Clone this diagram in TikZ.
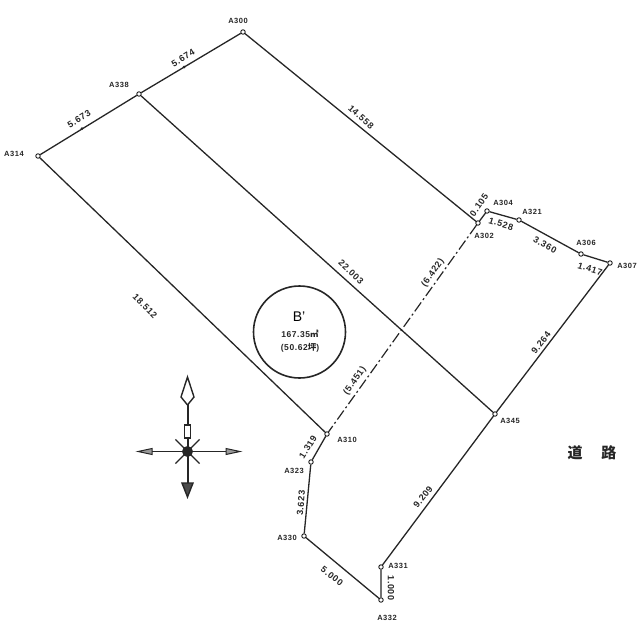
\documentclass[tikz,border=0pt]{standalone}
\usepackage{fontspec}
\setmainfont{Liberation Sans}
\newfontfamily\cadfont[LetterSpace=7]{Liberation Sans}
\newfontfamily\cjkfont{Noto Sans CJK JP}
\begin{document}
\begin{tikzpicture}[x=1pt, y=-1pt,
  stake/.style = {circle, draw, fill=white, line width=0.8pt, inner sep=0pt, minimum size=4.5pt},
  tick/.style = {circle, fill=black!85, inner sep=0pt, minimum size=3pt},
  boundary/.style = {line width=1.3pt, black!85},
  compass/.style = {line width=1.4pt, black!85},
  ptlabel/.style = {font=\cadfont\bfseries\fontsize{7.5}{8}\selectfont, inner sep=0pt, black!85},
  dimlabel/.style = {font=\cadfont\bfseries\fontsize{9}{9}\selectfont, inner sep=0pt, black!85}]
  \useasboundingbox (0,0) rectangle (640,640);
  % stakes
  \node[stake] (A300) at (243,32) {};
  \node[stake] (A338) at (139,94) {};
  \node[stake] (A314) at (38,156) {};
  \node[stake] (A302) at (478,223) {};
  \node[stake] (A304) at (487,211) {};
  \node[stake] (A321) at (519,220) {};
  \node[stake] (A306) at (581,254) {};
  \node[stake] (A307) at (610,263) {};
  \node[stake] (A345) at (495,414) {};
  \node[stake] (A331) at (381,567) {};
  \node[stake] (A332) at (381,600) {};
  \node[stake] (A330) at (304,536) {};
  \node[stake] (A323) at (311,462) {};
  \node[stake] (A310) at (327,434) {};
  % boundary
  \draw[boundary] (A314) -- (A338) -- (A300) -- (A302) -- (A304) -- (A321)
    -- (A306) -- (A307) -- (A345) -- (A331) -- (A332) -- (A330) -- (A323)
    -- (A310) -- (A314);
  \draw[boundary] (A338) -- (A345);
  \draw[line width=1.2pt, black!85, dash pattern=on 11pt off 3pt on 2pt off 3pt] (A302) -- (A310);
  \node[tick] (tickleft) at (82,128.5) {};
  \node[tick] (tickright) at (184,67) {};
  % stake names
  \node[ptlabel] at (238,21) {A300};
  \node[ptlabel] at (119,85) {A338};
  \node[ptlabel] at (14,154) {A314};
  \node[ptlabel] at (503,203) {A304};
  \node[ptlabel] at (532,212) {A321};
  \node[ptlabel] at (484,236) {A302};
  \node[ptlabel] at (586,243) {A306};
  \node[ptlabel] at (627,266) {A307};
  \node[ptlabel] at (510,421) {A345};
  \node[ptlabel] at (347,440) {A310};
  \node[ptlabel] at (294,471) {A323};
  \node[ptlabel] at (287,538) {A330};
  \node[ptlabel] at (398,566) {A331};
  \node[ptlabel] at (387,618) {A332};
  % lengths
  \node[dimlabel, rotate=31] at (79,119) {5.673};
  \node[dimlabel, rotate=31] at (183,58) {5.674};
  \node[dimlabel, rotate=-42] at (361,117) {14.558};
  \node[dimlabel, rotate=55] at (479,205) {0.105};
  \node[dimlabel, rotate=-17] at (501,224) {1.528};
  \node[dimlabel, rotate=-29] at (545,245) {3.360};
  \node[dimlabel, rotate=-17] at (590,269) {1.417};
  \node[dimlabel, rotate=52] at (541,343) {9.264};
  \node[dimlabel, rotate=52] at (423,497) {9.209};
  \node[dimlabel, rotate=-90] at (391,588) {1.000};
  \node[dimlabel, rotate=-38] at (332,576) {5.000};
  \node[dimlabel, rotate=85] at (301,503) {3.623};
  \node[dimlabel, rotate=58] at (308,447) {1.319};
  \node[dimlabel, rotate=-46] at (145,306) {18.512};
  \node[dimlabel, rotate=-44] at (351,272) {22.003};
  \node[dimlabel, rotate=55] at (433,273) {(6.422)};
  \node[dimlabel, rotate=55] at (355,381) {(5.451)};
  % area
  \node[circle, draw, line width=1.6pt, black!85, minimum size=92pt, inner sep=0pt] (area) at (299.5,332) {};
  \node[inner sep=0pt, font=\fontsize{14}{14}\selectfont] (lot) at (299,317) {B'};
  \node[dimlabel, font=\cadfont\bfseries\fontsize{8.5}{9}\selectfont] (size) at (300,334) {167.35{\cjkfont ㎡}};
  \node[dimlabel, font=\cadfont\bfseries\fontsize{8.5}{9}\selectfont] (tsubo) at (300,348) {(50.62{\cjkfont 坪})};
  % road
  \node[inner sep=0pt, font=\cjkfont\bfseries\fontsize{15}{15}\selectfont, black!85] (road) at (592,453) {道\hspace{19pt}路};
  % compass
  \draw[line width=2pt, black!85] (187.5,400) -- (187.5,484);
  \draw[compass, fill=white] (187.5,377) -- (194,397) -- (187.5,405) -- (181,397) -- cycle;
  \draw[compass, fill=white] (184.5,425) rectangle (190.5,438);
  \draw[compass, fill=black!70] (182,483) -- (193,483) -- (187.5,497) -- cycle;
  \draw[line width=1pt, black!85] (138,451.5) -- (240,451.5);
  \draw[line width=1pt, black!85, fill=black!40] (138,451.5) -- (152,448.5) -- (152,454.5) -- cycle;
  \draw[line width=1pt, black!85, fill=black!40] (240,451.5) -- (226,448.5) -- (226,454.5) -- cycle;
  \foreach \a in {45,135,225,315}
    \draw[compass] (187.5,451.5) -- ++(\a:17);
  \fill[black!85] (187.5,451.5) circle (5.5);
\end{tikzpicture}
\end{document}
